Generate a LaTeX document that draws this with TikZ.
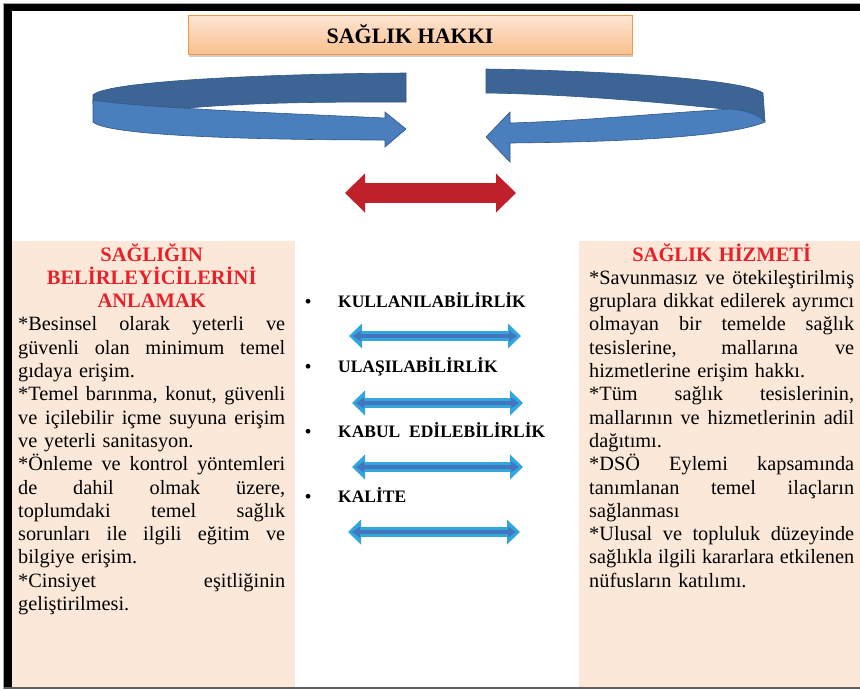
\documentclass[tikz,border=0pt]{standalone}
\usepackage{fontspec}
\setmainfont{Liberation Serif}
\usetikzlibrary{arrows.meta,shadows}

\definecolor{peach}{HTML}{FCE8D9}
\definecolor{headred}{HTML}{E8202A}
\definecolor{ribbondark}{HTML}{3C6595}
\definecolor{ribbonlight}{HTML}{4A7EBC}
\definecolor{ribbonedge}{HTML}{2F5785}
\definecolor{arrowred}{HTML}{C0202A}
\definecolor{bluelight}{HTML}{33A6DE}
\definecolor{bluecore}{HTML}{4277BF}
\definecolor{titletop}{HTML}{FDE6D5}
\definecolor{titlebottom}{HTML}{FAC08F}
\definecolor{titleedge}{HTML}{F79646}

% one justified line of a column, \colw wide
\newcommand\colw{267pt}
\newcommand\jl[1]{\hbox to\colw{\spaceskip=.25em plus 1fil\relax
  \xspaceskip=.25em plus 1fil\relax #1}\par}
\newcommand\headfont{\fontsize{20.5}{23.3}\selectfont\bfseries\color{headred}}

\tikzset{
  titlebox/.style={draw=titleedge, line width=1pt, top color=titletop,
    bottom color=titlebottom, minimum width=444pt, minimum height=39pt,
    font=\fontsize{22}{24}\selectfont\bfseries,
    drop shadow={shadow xshift=1pt, shadow yshift=-3pt, opacity=.4}},
  paneltext/.style={anchor=base west, inner sep=0pt,
    font=\fontsize{20.3}{23.3}\selectfont},
  item/.style={anchor=base west, inner sep=0pt,
    font=\fontsize{17.5}{20}\selectfont\bfseries},
  ribbontop/.style={fill=ribbondark, draw=ribbonedge, line width=.6pt},
  ribbonfront/.style={fill=ribbonlight, draw=ribbonedge, line width=.6pt},
  bluebar/.style={line width=10pt, bluelight,
    arrows={Triangle[length=13pt,width=25pt,line width=0pt]-Triangle[length=13pt,width=25pt,line width=0pt]}},
  bluestripe/.style={line width=4pt, bluecore, shorten <=4pt, shorten >=4pt,
    arrows={Triangle[length=8pt,width=11pt,line width=0pt]-Triangle[length=8pt,width=11pt,line width=0pt]}},
  redbar/.style={line width=20pt, arrowred,
    arrows={Triangle[length=20pt,width=39pt,line width=0pt]-Triangle[length=20pt,width=39pt,line width=0pt]}}
}

\begin{document}
\begin{tikzpicture}[x=1pt,y=-1pt]
  \useasboundingbox (0,0) rectangle (860,689);
  % frame
  \fill[gray!70] (3,3) rectangle (860,4);
  \fill[gray!70] (3,3) rectangle (4,689);
  \fill[black] (4,4) rectangle (860,11);
  \fill[black] (4,4) rectangle (12,689);
  \fill[gray!75!black] (4,687) rectangle (860,689);
  % side panels
  \fill[peach] (12,241) rectangle (295,687);
  \fill[peach] (579,241) rectangle (860,687);

  \node[titlebox] (title) at (410,34.5) {SAĞLIK HAKKI};

  % left ribbon
  \path[ribbontop] (406,73) .. controls (250,74) and (105,82) .. (93,95)
    -- (93,104) .. controls (130,109) and (160,110) .. (177,109)
    .. controls (250,102) and (330,102) .. (406,102) -- cycle;
  \path[ribbonfront] (93,100) .. controls (140,108) and (300,114) .. (385,118)
    -- (385,112) -- (406,129) -- (385,147) -- (385,140)
    .. controls (300,140) and (110,138) .. (93,122) -- cycle;

  % right ribbon
  \path[ribbontop] (486,69) .. controls (620,71) and (745,80) .. (763,93)
    -- (765,121) .. controls (755,113) and (745,110) .. (733,110)
    .. controls (650,101) and (560,94) .. (486,93) -- cycle;
  \path[ribbonfront] (731,109) .. controls (650,114) and (580,121) .. (510,123)
    -- (510,112) -- (486,137) -- (510,162) -- (510,143)
    .. controls (620,142) and (730,137) .. (765,122)
    .. controls (760,115) and (745,110) .. (731,109) -- cycle;

  \coordinate (rw) at (345,193);
  \coordinate (re) at (516,193);
  \draw[redbar] (rw) -- (re);

  \node[paneltext, text width=267pt] (left) at (18,261) {%
    {\centering\leavevmode\headfont SAĞLIĞIN\\BELİRLEYİCİLERİNİ\\ANLAMAK\par}
    \jl{*Besinsel olarak yeterli ve}
    \jl{güvenli olan minimum temel}
    gıdaya erişim.\par
    \jl{*Temel barınma, konut, güvenli}
    \jl{ve içilebilir içme suyuna erişim}
    ve yeterli sanitasyon.\par
    \jl{*Önleme ve kontrol yöntemleri}
    \jl{de dahil olmak üzere,}
    \jl{toplumdaki temel sağlık}
    \jl{sorunları ile ilgili eğitim ve}
    bilgiye erişim.\par
    \jl{*Cinsiyet eşitliğinin}
    geliştirilmesi.};

  \node[paneltext, text width=265pt] (right) at (589,261) {%
    \renewcommand\colw{265pt}%
    {\centering\leavevmode\headfont SAĞLIK HİZMETİ\par}
    \jl{*Savunmasız ve ötekileştirilmiş}
    \jl{gruplara dikkat edilerek ayrımcı}
    \jl{olmayan bir temelde sağlık}
    \jl{tesislerine, mallarına ve}
    hizmetlerine erişim hakkı.\par
    \jl{*Tüm sağlık tesislerinin,}
    \jl{mallarının ve hizmetlerinin adil}
    dağıtımı.\par
    \jl{*DSÖ Eylemi kapsamında}
    \jl{tanımlanan temel ilaçların}
    sağlanması\par
    \jl{*Ulusal ve topluluk düzeyinde}
    \jl{sağlıkla ilgili kararlara etkilenen}
    nüfusların katılımı.};

  % middle list
  \node[item] (i1) at (305,307) {\makebox[33pt][l]{\textbullet}KULLANILABİLİRLİK};
  \node[item] (i2) at (305,372) {\makebox[33pt][l]{\textbullet}ULAŞILABİLİRLİK};
  \node[item] (i3) at (305,437) {\makebox[33pt][l]{\textbullet}KABUL\ \ EDİLEBİLİRLİK};
  \node[item] (i4) at (305,502) {\makebox[33pt][l]{\textbullet}KALİTE};

  \foreach \n/\xa/\xb/\y in {1/349/521/336, 2/352/523/403, 3/352/523/467, 4/348/520/532}{
    \coordinate (b\n w) at (\xa,\y);
    \coordinate (b\n e) at (\xb,\y);
    \draw[bluebar] (b\n w) -- (b\n e);
    \draw[bluestripe] (b\n w) -- (b\n e);
  }
\end{tikzpicture}
\end{document}
